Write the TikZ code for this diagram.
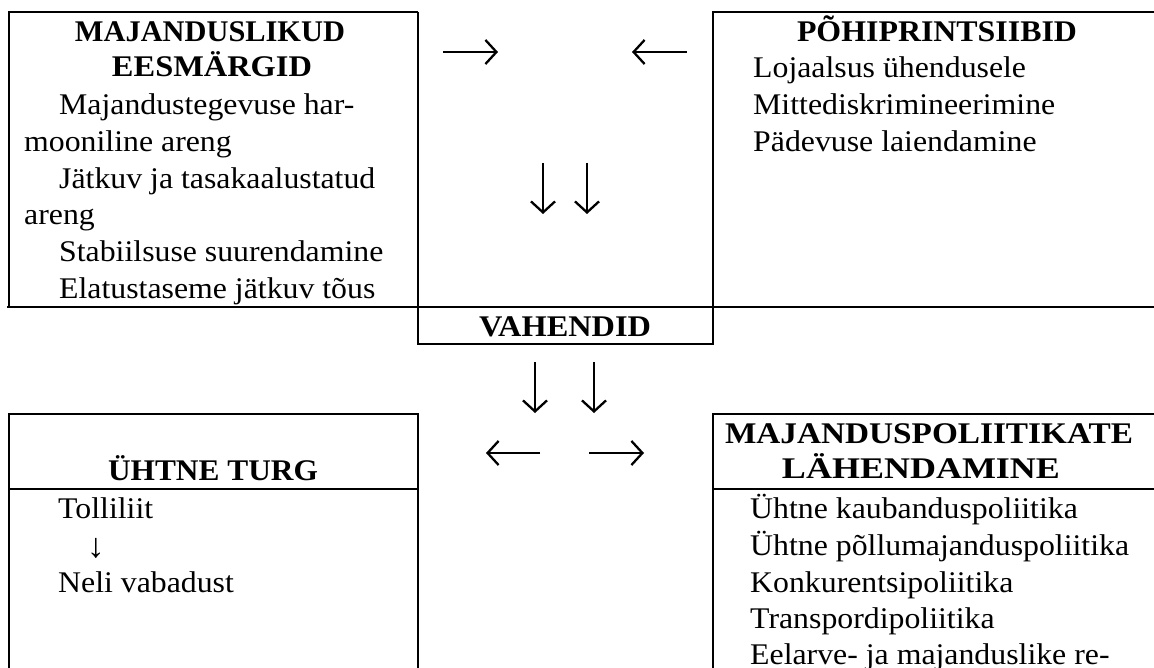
\documentclass[tikz,border=0pt]{standalone}
\usepackage{graphicx}
\usepackage{fontspec}
\setmainfont{Liberation Serif}
\newfontfamily\bodyfont[FakeStretch=1.06]{Liberation Serif}
\usetikzlibrary{arrows.meta}
% bold heading set to a given width
\newcommand{\headw}[2]{\resizebox{#1}{\height}{#2}}
\begin{document}
\begin{tikzpicture}[x=1pt,y=-1pt,
  rule/.style={line width=1.7pt,line join=miter},
  body/.style={anchor=base west,inner sep=0pt,font=\bodyfont\fontsize{30}{37}\selectfont},
  head/.style={anchor=base,inner sep=0pt,font=\fontsize{30}{37}\selectfont\bfseries},
  flow/.style={line width=2.3pt,-{Straight Barb[length=11pt,width=24pt]}}]
\useasboundingbox (0,0) rectangle (1154,668);
\clip (0,0) rectangle (1154,668);
\fill[white] (0,0) rectangle (1154,668);

% table rules
\draw[rule] (8.7,306.7) -- (8.7,12) -- (417.7,12);
\draw[rule] (417.7,12) -- (417.7,344.3) -- (713,344.3) -- (713,12) -- (1160,12);
\draw[rule] (7,306.7) -- (1160,306.7);
\draw[rule] (8.7,680) -- (8.7,414) -- (417.7,414) -- (417.7,680);
\draw[rule] (8.7,489) -- (417.7,489);
\draw[rule] (713,680) -- (713,414) -- (1160,414);
\draw[rule] (713,489) -- (1160,489);

% economic goals
\node[head] (g1) at (210,42) {\headw{270pt}{MAJANDUSLIKUD}};
\node[head] (g2) at (212,77) {\headw{200pt}{EESMÄRGID}};
\node[body] (g3) at (59,115) {Majandustegevuse har-};
\node[body] (g4) at (24,152) {mooniline areng};
\node[body] (g5) at (59,189) {Jätkuv ja tasakaalustatud};
\node[body] (g6) at (24,225) {areng};
\node[body] (g7) at (59,262) {Stabiilsuse suurendamine};
\node[body] (g8) at (59,299) {Elatustaseme jätkuv tõus};

% basic principles
\node[head] (p1) at (937,42) {\headw{280pt}{PÕHIPRINTSIIBID}};
\node[body] (p2) at (753,78) {Lojaalsus ühendusele};
\node[body] (p3) at (753,115) {Mittediskrimineerimine};
\node[body] (p4) at (753,152) {Pädevuse laiendamine};

% means
\node[head] (v) at (565,337) {\headw{172pt}{VAHENDID}};

% single market
\node[head] (t1) at (213,480) {\headw{210pt}{ÜHTNE TURG}};
\node[body] (t2) at (58,518) {Tolliliit};
\node[body,anchor=base,font=\bodyfont\fontsize{34}{37}\selectfont] (t3) at (96,557) {↓};
\node[body] (t4) at (58,592) {Neli vabadust};

% approximation of economic policies
\node[head] (m1) at (929,443) {\headw{408pt}{MAJANDUSPOLIITIKATE}};
\node[head] (m2) at (921,478) {\headw{278pt}{LÄHENDAMINE}};
\node[body] (m3) at (750,518) {Ühtne kaubanduspoliitika};
\node[body] (m4) at (750,555) {Ühtne põllumajanduspoliitika};
\node[body] (m5) at (750,592) {Konkurentsipoliitika};
\node[body] (m6) at (750,628) {Transpordipoliitika};
\node[body] (m7) at (750,664) {Eelarve- ja majanduslike re-};

% arrow end points
\coordinate (a1s) at (443,52);  \coordinate (a1e) at (498,52);
\coordinate (a2s) at (687,52);  \coordinate (a2e) at (632,52);
\coordinate (a3s) at (543,163); \coordinate (a3e) at (543,214);
\coordinate (a4s) at (587,163); \coordinate (a4e) at (587,214);
\coordinate (b1s) at (535,362); \coordinate (b1e) at (535,413);
\coordinate (b2s) at (594,362); \coordinate (b2e) at (594,413);
\coordinate (b3s) at (540,453); \coordinate (b3e) at (486,453);
\coordinate (b4s) at (589,453); \coordinate (b4e) at (644,453);

\draw[flow] (a1s) -- (a1e);
\draw[flow] (a2s) -- (a2e);
\draw[flow] (a3s) -- (a3e);
\draw[flow] (a4s) -- (a4e);
\draw[flow] (b1s) -- (b1e);
\draw[flow] (b2s) -- (b2e);
\draw[flow] (b3s) -- (b3e);
\draw[flow] (b4s) -- (b4e);
\end{tikzpicture}
\end{document}
